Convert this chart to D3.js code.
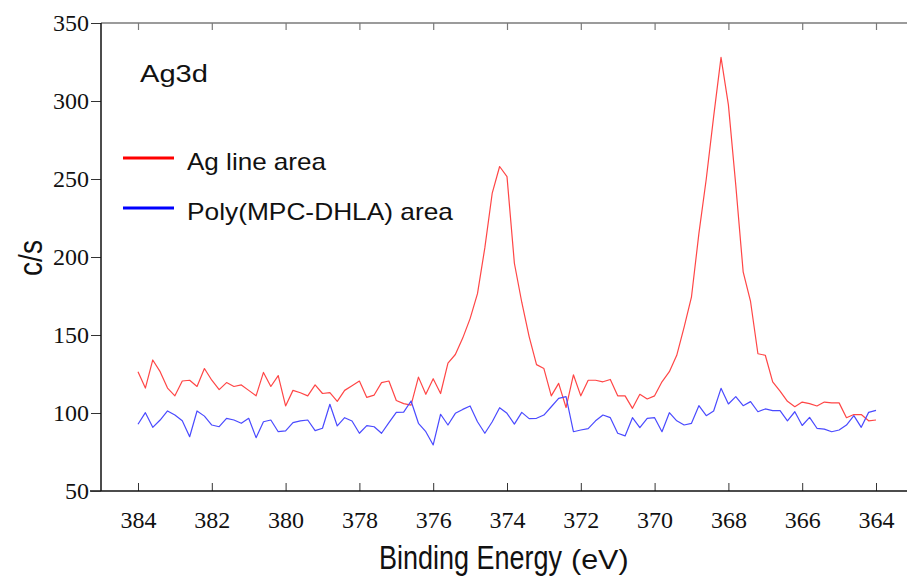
<!DOCTYPE html>
<html>
<head>
<meta charset="utf-8">
<script src="https://cdn.jsdelivr.net/npm/d3@7"></script>
<style>
  html, body { margin: 0; padding: 0; background: #fff; }
  svg { display: block; }
</style>
</head>
<body>
<svg id="chart" width="907" height="576"></svg>
<script>
// Binding energy grid (eV), 384 -> 364 in 0.2 eV steps
const energy = [
  384.0,383.8,383.6,383.4,383.2,383.0,382.8,382.6,382.4,382.2,
  382.0,381.8,381.6,381.4,381.2,381.0,380.8,380.6,380.4,380.2,
  380.0,379.8,379.6,379.4,379.2,379.0,378.8,378.6,378.4,378.2,
  378.0,377.8,377.6,377.4,377.2,377.0,376.8,376.6,376.4,376.2,
  376.0,375.8,375.6,375.4,375.2,375.0,374.8,374.6,374.4,374.2,
  374.0,373.8,373.6,373.4,373.2,373.0,372.8,372.6,372.4,372.2,
  372.0,371.8,371.6,371.4,371.2,371.0,370.8,370.6,370.4,370.2,
  370.0,369.8,369.6,369.4,369.2,369.0,368.8,368.6,368.4,368.2,
  368.0,367.8,367.6,367.4,367.2,367.0,366.8,366.6,366.4,366.2,
  366.0,365.8,365.6,365.4,365.2,365.0,364.8,364.6,364.4,364.2,
  364.0
];

// Ag line area (c/s)
const agLine = [
  126.5,116,134,126.5,116,111,120.5,121,117,128.5,
  121,115,119.5,117,118,114.5,111,126,117,124,
  104.5,114.5,113,111,118,112.5,113,107.5,114.5,117.5,
  120.5,110,111.5,119.5,120.5,108,106,105,123,112,
  122,112.5,132,137.5,148,160.5,176.5,206,241,258,
  251.5,196,171,149,131,128.5,111,119,103.5,124.5,
  111,121,121,120,121.5,111,111,103,112,109,
  111,120,126.5,137,155,174.5,215,250,290,328,
  297.5,246,190.5,171.5,138,137,120,114,107.5,104,
  107,106,104.5,107,106.5,106.5,97,99,99,95,
  95.5
];

// Poly(MPC-DHLA) area (c/s)
const polyArea = [
  92.8,100.2,90.8,95.5,101.3,98.7,95,84.8,101.3,98,
  92.3,91.2,96.6,95.5,93.4,96.6,84.2,94.4,95.5,88,
  88.5,93.8,94.9,95.5,88.7,90.2,105.6,91.7,97,94.9,
  87,91.9,91.2,87,93.8,100.4,100.6,107.7,93.4,88,
  79.5,99.2,92.3,99.8,102.3,104.5,94.4,87,94.4,103.4,
  99.8,92.9,100.4,96.4,96.6,98.7,104,109.4,110.5,88,
  89.1,90,95,98.7,97,87,85.3,97,90.6,96.6,
  97,88,100.2,95,92.3,93.4,104.7,98.3,101.3,115.8,
  105.8,110.5,104.7,107.3,100.8,102.6,101.5,101.5,95,100.8,
  92,97.2,90.2,89.7,88,89.1,92.3,98.3,90.8,100.4,
  101.7
];

const xTicks = [384, 382, 380, 378, 376, 374, 372, 370, 368, 366, 364];
const yTicks = [50, 100, 150, 200, 250, 300, 350];

const seriesNames = ["Ag line area", "Poly(MPC-DHLA) area"];
const seriesColors = ["#ff0000", "#0000ff"];
const lineColors = ["#ff4646", "#4a4aff"];

const SERIF = "'Liberation Serif', 'Times New Roman', Times, serif";
const SANS = "'Liberation Sans', Arial, Helvetica, sans-serif";

const svg = d3.select("#chart");

const plotLeft = 101, plotRight = 907, plotTop = 23, plotBottom = 491;

// x: 384 at px 138, 364 at px 876
const x = d3.scaleLinear().domain([384, 364]).range([138, 876]);
const y = d3.scaleLinear().domain([50, 350]).range([plotBottom, plotTop]);

// Top frame line (gray) with inward ticks
const topAxis = d3.axisTop(x).tickValues(xTicks).tickSize(-7).tickFormat("");
const gTop = svg.append("g").attr("transform", `translate(0,${plotTop})`).call(topAxis);
gTop.select(".domain").remove();
gTop.selectAll(".tick line").attr("stroke", "#7a7a7a").attr("stroke-width", 1.2);
svg.append("line").attr("x1", plotLeft).attr("x2", plotRight).attr("y1", plotTop).attr("y2", plotTop)
  .attr("stroke", "#7a7a7a").attr("stroke-width", 1.5);

// Bottom axis with inward ticks
const bottomAxis = d3.axisBottom(x).tickValues(xTicks).tickSize(-8).tickPadding(20)
  .tickFormat(d3.format("d"));
const gBot = svg.append("g").attr("transform", `translate(0,${plotBottom})`).call(bottomAxis);
gBot.attr("font-family", SERIF).attr("font-size", 24).style("font-family", SERIF);
gBot.select(".domain").remove();
gBot.selectAll(".tick line").attr("stroke", "#333").attr("stroke-width", 1);
gBot.selectAll(".tick text")
  .style("font-family", SERIF).style("font-size", "24px").attr("fill", "#111");
svg.append("line").attr("x1", 90).attr("x2", plotRight).attr("y1", plotBottom).attr("y2", plotBottom)
  .attr("stroke", "#111").attr("stroke-width", 1.5);

// Left axis
const leftAxis = d3.axisLeft(y).tickValues(yTicks).tickSize(10).tickPadding(2)
  .tickFormat(d3.format("d"));
const gLeft = svg.append("g").attr("transform", `translate(${plotLeft},0)`).call(leftAxis);
gLeft.attr("font-family", SERIF).attr("font-size", 24).style("font-family", SERIF);
gLeft.select(".domain").remove();
gLeft.selectAll(".tick line").attr("stroke", "#333").attr("stroke-width", 1);
gLeft.selectAll(".tick text")
  .style("font-family", SERIF).style("font-size", "24px").attr("fill", "#111");
svg.append("line").attr("x1", plotLeft).attr("x2", plotLeft).attr("y1", plotTop).attr("y2", plotBottom)
  .attr("stroke", "#111").attr("stroke-width", 1.5);

// Data lines
const line = d3.line().x((d, i) => x(energy[i])).y(d => y(d));
[agLine, polyArea].forEach((s, k) => {
  svg.append("path").datum(s)
    .attr("fill", "none")
    .attr("stroke", lineColors[k])
    .attr("stroke-width", 1.2)
    .attr("stroke-linejoin", "round")
    .attr("d", line);
});

// Title inside plot
svg.append("text").attr("x", 140).attr("y", 82)
  .style("font-family", SANS).style("font-size", "23px").attr("fill", "#111")
  .attr("textLength", 68).attr("lengthAdjust", "spacingAndGlyphs")
  .text("Ag3d");

// Legend
const legendY = [158, 208];
const legendW = [139, 266];
seriesNames.forEach((name, k) => {
  svg.append("line").attr("x1", 123).attr("x2", 174)
    .attr("y1", legendY[k]).attr("y2", legendY[k])
    .attr("stroke", seriesColors[k]).attr("stroke-width", 3);
  svg.append("text").attr("x", 187).attr("y", legendY[k] + 12)
    .style("font-family", SANS).style("font-size", "24px").attr("fill", "#111")
    .attr("textLength", legendW[k]).attr("lengthAdjust", "spacingAndGlyphs")
    .text(name);
});

// Axis titles (scaled glyphs to match the reference proportions)
svg.append("text")
  .attr("transform", "translate(379,569) scale(0.818,1)")
  .style("font-family", SANS).style("font-size", "33px").attr("fill", "#111")
  .text("Binding Energy");
svg.append("text")
  .attr("transform", "translate(571,569) scale(1.13,1)")
  .style("font-family", SANS).style("font-size", "27px").attr("fill", "#111")
  .text("(eV)");

svg.append("text")
  .attr("transform", "translate(42,276) rotate(-90) scale(0.853,1)")
  .style("font-family", SANS).style("font-size", "33px").attr("fill", "#111")
  .text("c/s");
</script>
</body>
</html>
